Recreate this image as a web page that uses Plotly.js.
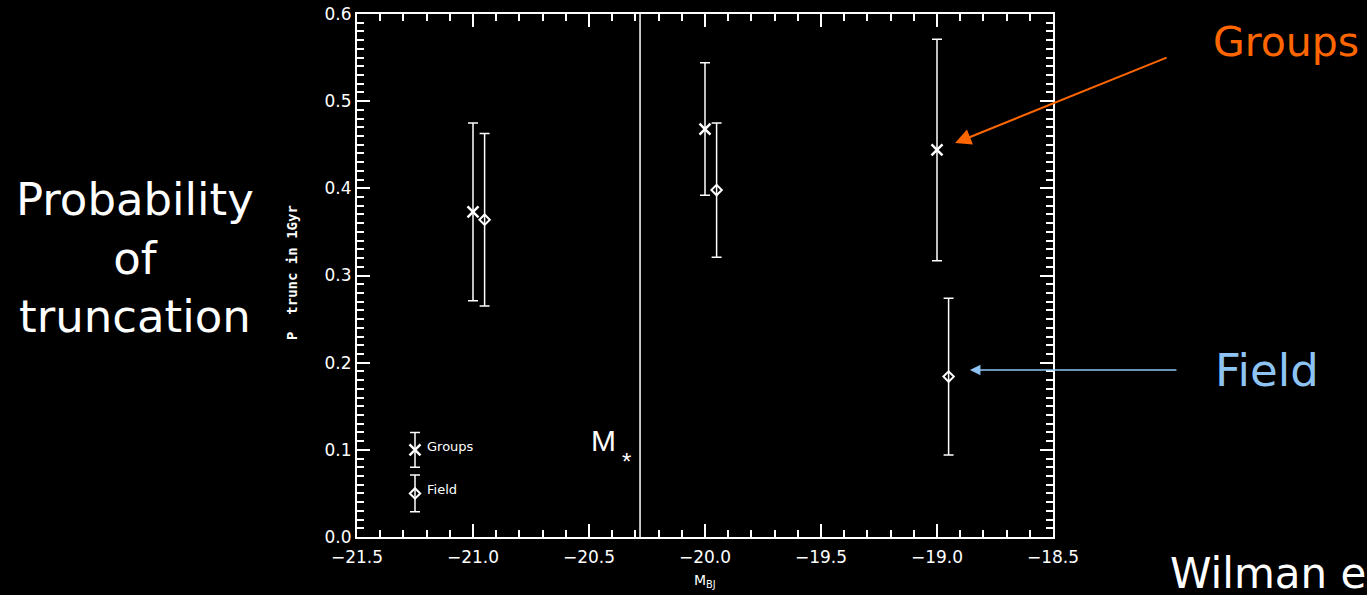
<!DOCTYPE html>
<html><head><meta charset="utf-8">
<script src="https://cdn.plot.ly/plotly-3.0.1.min.js"></script>
<style>html,body{margin:0;padding:0;background:#000;}#chart{width:1367px;height:595px;}</style>
</head><body><div id="chart"></div>
<script>
// Data
const groupsX = [-21.0, -20.0, -19.0];
const groupsY = [0.373, 0.468, 0.444];
const groupsErr = [0.102, 0.076, 0.127];
const fieldX = [-20.95, -19.95, -18.95];
const fieldY = [0.364, 0.398, 0.184];
const fieldErr = [0.099, 0.077, 0.090];
// inline legend samples
const legendX = [-21.25];
const legendGroupsY = [0.100];
const legendGroupsErr = [0.020];
const legendFieldY = [0.050];
const legendFieldErr = [0.021];
const mstarX = -20.28;
const xRange = [-21.5, -18.5];
const yRange = [0.0, 0.6];

const W = 1367, H = 595;
const L = 357, R = 1053, T = 14, B = 537;
function px(x){ return (x - L) / (R - L); }
function py(y){ return (B - y) / (B - T); }

const white = '#ffffff';
const errStyle = (arr) => ({type:'data', array:arr, visible:true, color:white, thickness:1.5, width:5});

const traces = [
  {x:[mstarX, mstarX], y:yRange, mode:'lines', line:{color:white, width:1.5}, hoverinfo:'skip'},
  {x:groupsX, y:groupsY, error_y:errStyle(groupsErr), mode:'markers',
   marker:{symbol:'x-thin-open', size:11, color:white, line:{color:white, width:2.5}}},
  {x:fieldX, y:fieldY, error_y:errStyle(fieldErr), mode:'markers',
   marker:{symbol:'diamond-open', size:8, color:white, line:{color:white, width:2}}},
  {x:legendX, y:legendGroupsY, error_y:errStyle(legendGroupsErr), mode:'markers',
   marker:{symbol:'x-thin-open', size:11, color:white, line:{color:white, width:2.5}}},
  {x:legendX, y:legendFieldY, error_y:errStyle(legendFieldErr), mode:'markers',
   marker:{symbol:'diamond-open', size:8, color:white, line:{color:white, width:2}}}
];

const tickFont = {family:'DejaVu Sans', size:17, color:white};
const axisCommon = {
  showgrid:false, zeroline:false, showline:true, linecolor:white, linewidth:2,
  mirror:'allticks', ticks:'inside', ticklen:13, tickwidth:2, tickcolor:white,
  tickfont:tickFont, fixedrange:true
};

const annFont = (size, color, family) => ({family: family || 'DejaVu Sans', size:size, color:color});
const annotations = [
  {xref:'paper', yref:'paper', x:px(135), y:py(258), text:'Probability<br>of<br>truncation',
   showarrow:false, font:annFont(45, white), align:'center', xanchor:'center', yanchor:'middle'},
  {xref:'paper', yref:'paper', x:px(1211), y:py(42), text:'Groups', showarrow:false,
   font:annFont(41, '#ff6600'), xanchor:'left', yanchor:'middle'},
  {xref:'paper', yref:'paper', x:px(1213), y:py(370), text:'Field', showarrow:false,
   font:annFont(45, '#8ec4f4'), xanchor:'left', yanchor:'middle'},
  {xref:'paper', yref:'paper', x:px(1168), y:py(573), text:'Wilman et al.', showarrow:false,
   font:annFont(42, white), xanchor:'left', yanchor:'middle'},
  {x:-18.922, y:0.452, xref:'x', yref:'y', ax:213, ay:-86, axref:'pixel', ayref:'pixel',
   showarrow:true, arrowcolor:'#ff6600', arrowwidth:2, arrowhead:2, arrowsize:1.6, text:''},
  {x:-18.858, y:0.1916, xref:'x', yref:'y', ax:208, ay:0, axref:'pixel', ayref:'pixel',
   showarrow:true, arrowcolor:'#8ec4f4', arrowwidth:1.5, arrowhead:2, arrowsize:1.4, text:''},
  {xref:'paper', yref:'paper', x:px(425), y:py(446), text:'Groups', showarrow:false,
   font:annFont(13, white), xanchor:'left', yanchor:'middle'},
  {xref:'paper', yref:'paper', x:px(425), y:py(489), text:'Field', showarrow:false,
   font:annFont(13, white), xanchor:'left', yanchor:'middle'},
  {xref:'paper', yref:'paper', x:px(603), y:py(440), text:'M', showarrow:false,
   font:annFont(30, white, 'Liberation Sans'), xanchor:'center', yanchor:'middle'},
  {xref:'paper', yref:'paper', x:px(626), y:py(462), text:'*', showarrow:false,
   font:annFont(24, white, 'Liberation Sans'), xanchor:'center', yanchor:'middle'},
  {xref:'paper', yref:'paper', x:px(705), y:py(581), text:'M<sub>BJ</sub>', showarrow:false,
   font:annFont(14, white), xanchor:'center', yanchor:'middle'},
  {xref:'paper', yref:'paper', x:px(292), y:py(273), text:'<b>P  trunc in 1Gyr</b>', showarrow:false,
   textangle:-90, font:annFont(14, white, 'DejaVu Sans Mono'), xanchor:'center', yanchor:'middle'}
];

const layout = {
  width:W, height:H,
  margin:{l:L, r:W-R, t:T, b:H-B, pad:0},
  paper_bgcolor:'#000000', plot_bgcolor:'#000000',
  showlegend:false,
  xaxis: Object.assign({}, axisCommon, {range:xRange, dtick:0.5, tick0:-21.5, tickformat:'.1f',
    ticklabelstandoff:4,
    minor:{ticks:'inside', dtick:0.1, ticklen:7, tickwidth:2, tickcolor:white}}),
  yaxis: Object.assign({}, axisCommon, {range:yRange, dtick:0.1, tick0:0, tickformat:'.1f',
    minor:{ticks:'inside', dtick:0.01, ticklen:7, tickwidth:2, tickcolor:white}}),
  annotations: annotations
};

Plotly.newPlot('chart', traces, layout, {displayModeBar:false, staticPlot:true});
</script></body></html>
